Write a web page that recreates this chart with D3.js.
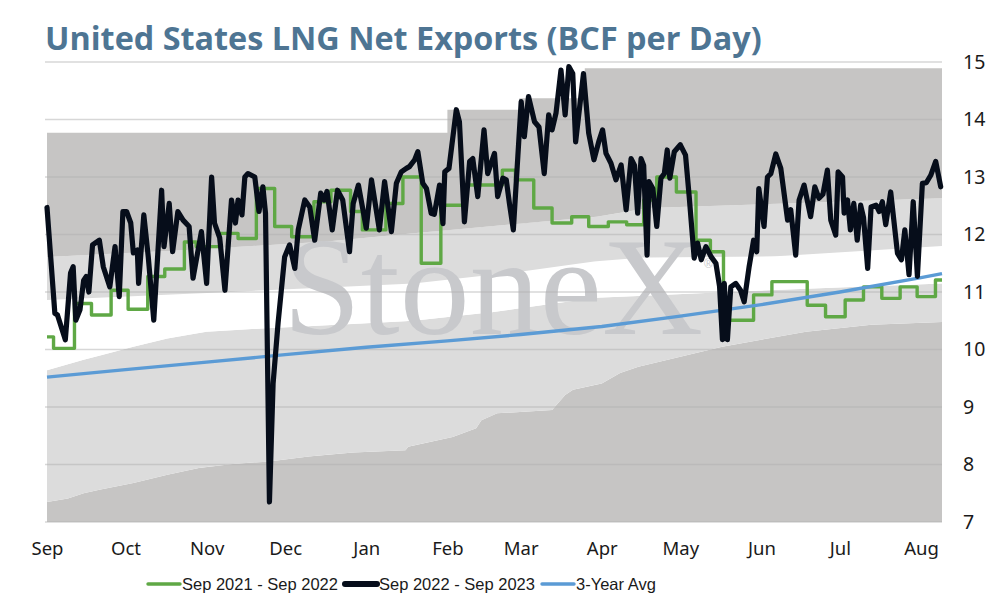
<!DOCTYPE html>
<html><head><meta charset="utf-8">
<script src="https://cdn.jsdelivr.net/npm/d3@7"></script>
<style>body{margin:0;background:#fff;}svg{display:block;}</style>
</head><body>
<svg id="chart" width="994" height="606"></svg>
<script>
// ---------------- DATA ----------------
const titleText = "United States LNG Net Exports (BCF per Day)";
const startDate = new Date(2022, 8, 1);          // day 0 = 1 Sep 2022
const endDay = 342;                               // ~8 Aug 2023
const monthLabels = ["Sep","Oct","Nov","Dec","Jan","Feb","Mar","Apr","May","Jun","Jul","Aug"];
const monthStarts = ["2022-09-01","2022-10-01","2022-11-01","2022-12-01","2023-01-01","2023-02-01","2023-03-01","2023-04-01","2023-05-01","2023-06-01","2023-07-01","2023-08-01"];
const yTicks = [7,8,9,10,11,12,13,14,15];
const seriesNames = ["Sep 2021 - Sep 2022","Sep 2022 - Sep 2023","3-Year Avg"];

// Sep 2022 - Sep 2023 (black) : [day, bcf/d]
const current = [[0,12.47],[3,10.63],[4,10.6],[7,10.17],[9,11.33],[10,11.44],[11,10.51],[12.6,10.69],[14,11.2],[15,11.27],[16,11.0],[17.4,11.82],[20,11.9],[21.5,11.44],[24,11.09],[26,11.79],[27.6,10.92],[29,12.4],[30.4,12.4],[32,12.2],[33,11.68],[34.5,11.73],[35,11.15],[37,12.34],[38.7,11.61],[40.8,10.51],[43.8,12.77],[44.7,11.79],[46.7,12.54],[48,11.7],[50,12.4],[52,12.25],[54.3,12.14],[55.8,11.24],[59,12.05],[61,11.15],[62.9,13.0],[64,12.2],[66,11.94],[68,11.03],[70.5,12.6],[72,12.2],[73,12.6],[74.5,12.34],[75.6,13.0],[76.8,13.06],[79.4,13.0],[81,12.4],[82.5,12.83],[83.5,12.37],[85,7.35],[86.4,9.41],[88.3,10.46],[90.8,11.61],[92.7,11.82],[94.7,11.41],[96,12.08],[98.5,12.6],[100.4,12.48],[102.3,11.9],[104.6,12.72],[106,12.6],[107,12.75],[109,12.08],[111,12.77],[113,12.6],[115.6,11.7],[117,12.54],[119,12.86],[122,12.11],[124,12.95],[127,12.08],[129,12.92],[131.6,12.05],[133.5,12.89],[135.4,13.09],[137.3,13.15],[138.5,13.18],[140.5,13.3],[141.7,13.44],[143.6,12.89],[145,12.8],[146.8,12.37],[148,12.35],[150,12.86],[151.3,12.19],[152,13.09],[153.6,13.15],[156.4,14.17],[157.6,13.96],[159.5,12.22],[161.5,13.27],[162.7,13.32],[164.6,12.66],[167,13.82],[168.4,13.06],[171,13.41],[172.2,12.66],[174.2,12.98],[175.5,12.95],[176.7,12.54],[178.2,12.08],[181.2,14.31],[182.4,13.7],[184,14.4],[186.3,13.96],[188,13.87],[190,13.06],[191.7,14.08],[193,13.82],[194.5,14.11],[196.4,14.86],[198,14.08],[199.4,14.92],[200.9,14.8],[202,13.61],[204,14.4],[205,14.8],[207,13.76],[209,13.3],[211,13.64],[212.3,13.82],[213.6,13.41],[215.5,13.24],[217.4,12.95],[219.4,13.21],[221.3,12.43],[223.2,13.32],[224.5,13.2],[225.7,12.37],[227,13.32],[228,13.2],[229.3,11.64],[230,12.92],[231.5,12.8],[233,12.14],[234.6,12.98],[235.9,13.06],[237,13.47],[238,12.98],[239.7,13.44],[242,13.56],[244,13.38],[245.4,12.66],[247.3,11.59],[248.6,11.85],[250,11.56],[251.8,11.79],[253.8,11.61],[255.6,11.5],[257,11.1],[258.1,10.17],[258.8,11.15],[260,10.17],[261.3,11.09],[263.2,11.15],[265,11.03],[266.4,10.83],[268.3,11.44],[270,11.9],[271.2,11.7],[272,12.8],[274,12.14],[275.3,13.0],[276.6,13.06],[278.5,13.4],[280.4,13.15],[283,12.25],[284.2,12.43],[286.1,11.64],[287.4,12.6],[289.3,12.86],[291.8,12.31],[293.4,12.83],[295,12.63],[296.5,12.7],[298.2,13.12],[299.5,12.25],[301.4,11.99],[302.3,13.09],[304,13.0],[304.6,12.37],[305.9,12.6],[307,12.08],[308.3,12.54],[309.6,11.9],[310.9,12.51],[312,12.3],[313.6,11.41],[314.9,12.48],[316.8,12.51],[318,12.4],[319.2,12.57],[320.5,12.17],[322.4,12.74],[325,11.67],[326.5,11.56],[327.8,12.08],[329.4,11.3],[331,12.57],[332.6,11.27],[334.5,12.89],[336,12.9],[337.7,13.03],[339.6,13.27],[341.5,12.83]];

// Sep 2021 - Sep 2022 (green, weekly steps) : [first day, last day, bcf/d]
const prior = [[0,2.5,10.22],[2.5,10.5,10.02],[10.5,17,10.8],[17,24.5,10.6],[24.5,31,11.03],[31,38.5,10.7],[38.5,45,11.27],[45,52.5,11.4],[52.5,57,11.87],[57,66,11.79],[66,73,12.02],[73,80,11.93],[80,87,12.8],[87,93.5,12.14],[93.5,102,11.96],[102,108.5,12.57],[108.5,116,12.77],[116,120.5,12.4],[120.5,129.5,12.08],[129.5,136,12.54],[136,143,13.0],[143,150.5,11.5],[150.5,159.5,12.51],[159.5,174,12.86],[174,179,13.12],[179,186,12.95],[186,193,12.46],[193,200.5,12.2],[200.5,207,12.31],[207,214.5,12.14],[214.5,221.5,12.22],[221.5,228,12.17],[228,233,12.6],[233,240.5,13.0],[240.5,248,12.74],[248,253.5,11.9],[253.5,258.5,11.7],[258.5,270,10.51],[270,277,10.95],[277,290.5,11.18],[290.5,297.5,10.77],[297.5,305,10.57],[305,312,10.86],[312,319,11.09],[319,326,10.89],[326,332.5,11.09],[332.5,339.5,10.92],[339.5,342,11.21]];

// 3-Year Avg (blue)
const avg3 = [[0,9.52],[30,9.65],[61,9.78],[91,9.91],[122,10.04],[153,10.15],[181,10.26],[212,10.40],[242,10.58],[273,10.78],[303,11.0],[334,11.25],[342,11.32]];

// background range bands (bottom to top boundaries)
const rangeMin = [[0,7.35],[8,7.41],[14,7.5],[20,7.56],[33,7.68],[46,7.82],[58,7.94],[71,8.01],[84,8.05],[100,8.14],[117,8.21],[137,8.25],[138,8.31],[155,8.48],[164,8.63],[166,8.77],[172,8.89],[193,8.95],[198,9.21],[201,9.3],[212,9.41],[219,9.59],[226,9.7],[258,10.05],[290,10.31],[315,10.43],[342,10.48]];
const bandLow = [[0,9.64],[14,9.82],[33,10.05],[46,10.19],[61,10.31],[84,10.37],[107,10.42],[140,10.5],[170,10.65],[210,10.9],[260,11.0],[342,11.15]];
const bandHigh = [[0,10.86],[70,11.0],[107,11.08],[140,11.15],[180,11.35],[209,11.53],[228,11.6],[278,11.62],[342,11.8]];
const rangeUpperLow = [[0,11.61],[50,11.72],[107,11.88],[140,12.02],[210,12.31],[230,12.46],[282,12.54],[342,12.63]];
const rangeMax = [[0,13.77],[153,13.77],[153,14.17],[180.5,14.17],[180.5,14.37],[205.5,14.37],[205.5,14.89],[342,14.89]];

// ---------------- CHART ----------------
const M = {left:47, right:942, top:62, bottom:522};
const svg = d3.select("#chart");
const dayToDate = d => new Date(startDate.getTime() + d*86400000);
const x = d3.scaleTime().domain([startDate, dayToDate(endDay)]).range([M.left, M.right]);
const y = d3.scaleLinear().domain([7,15]).range([M.bottom, M.top]);
const xd = d => x(dayToDate(d));

const C = {dark:"#c6c5c4", light:"#dcdcdc", white:"#ffffff", green:"#5fa845", black:"#060d1a", blue:"#5b9bd5", title:"#4e7593", text:"#1a1a1a", mark:"#c8c9cc"};

const area = d3.area().x(p=>xd(p.d)).y0(p=>y(p.lo)).y1(p=>y(p.hi));
const floor7 = [[0,7],[endDay,7]];
const bands = [
  [floor7, rangeMin, C.dark],
  [rangeMin, bandLow, C.light],
  [bandLow, bandHigh, C.white],
  [bandHigh, rangeUpperLow, C.light],
  [rangeUpperLow, rangeMax, C.dark]
];
const gBands = svg.append("g");
bands.forEach(([lo,hi,col]) => {
  const pts = [];
  const days = Array.from(new Set(lo.map(p=>p[0]).concat(hi.map(p=>p[0])))).sort((a,b)=>a-b);
  const val = (s,d,side) => {
    const idx = s.map((p,i)=>p[0]===d?i:-1).filter(i=>i>=0);
    if (idx.length) return side==='L'? s[idx[0]][1] : s[idx[idx.length-1]][1];
    for (let i=0;i<s.length-1;i++){
      if (d>s[i][0] && d<s[i+1][0]){const t=(d-s[i][0])/(s[i+1][0]-s[i][0]);return s[i][1]+t*(s[i+1][1]-s[i][1]);}
    }
    return s[s.length-1][1];
  };
  days.forEach(d=>{
    pts.push({d, lo: val(lo,d,'L'), hi: val(hi,d,'L')});
    const lo2 = val(lo,d,'R'), hi2 = val(hi,d,'R');
    if (lo2!==pts[pts.length-1].lo || hi2!==pts[pts.length-1].hi) pts.push({d, lo:lo2, hi:hi2});
  });
  gBands.append("path").attr("d", area(pts)).attr("fill", col);
});

// watermark
const wm = svg.append("text").text("StoneX")
  .attr("x", 283).attr("y", 334)
  .attr("font-family","'Liberation Serif','DejaVu Serif',serif")
  .attr("font-size", 130).attr("fill", C.mark);
const wmw = wm.node().getComputedTextLength();
wm.attr("font-size", 130*420/wmw);
svg.append("text").text("®").attr("x", 704).attr("y", 268)
  .attr("font-family","'Liberation Sans',sans-serif").attr("font-size", 12).attr("fill",C.mark);

// gridlines
svg.append("g").selectAll("line").data(yTicks).join("line")
  .attr("x1", 45).attr("x2", M.right)
  .attr("y1", d=>y(d)).attr("y2", d=>y(d))
  .attr("stroke", "rgba(175,175,175,0.5)").attr("stroke-width", 1.6);

// axes
const yAxis = d3.axisRight(y).tickValues(yTicks).tickSize(0).tickPadding(21).tickFormat(d3.format("d"));
const gy = svg.append("g").attr("transform", `translate(${M.right},0)`).call(yAxis);
gy.select(".domain").remove();
gy.selectAll("text").attr("font-family","'Noto Sans',sans-serif").attr("font-size",19.5).attr("fill",C.text);

const parse = d3.timeParse("%Y-%m-%d");
const xAxis = d3.axisBottom(x).tickValues(monthStarts.map(parse)).tickSize(0).tickPadding(20)
  .tickFormat((d,i)=>monthLabels[i]);
const gx = svg.append("g").attr("transform", `translate(0,${M.bottom})`).call(xAxis);
gx.select(".domain").remove();
gx.selectAll("text").attr("font-family","'Noto Sans',sans-serif").attr("font-size",18.5).attr("fill",C.text);

// lines
const line = d3.line().x(p=>xd(p[0])).y(p=>y(p[1]));
const stepPts = [];
prior.forEach(s=>{ stepPts.push([s[0], s[2]]); stepPts.push([s[1], s[2]]); });
svg.append("path").attr("d", line(stepPts)).attr("fill","none").attr("stroke",C.green).attr("stroke-width",3.4).attr("stroke-linejoin","round");
svg.append("path").attr("d", line(avg3)).attr("fill","none").attr("stroke",C.blue).attr("stroke-width",3.4).attr("stroke-linejoin","round");
svg.append("path").attr("d", line(current)).attr("fill","none").attr("stroke",C.black).attr("stroke-width",5.2).attr("stroke-linejoin","round").attr("stroke-linecap","round");

// title
const tt = svg.append("text").text(titleText).attr("x",45).attr("y",50)
  .attr("font-family","'Open Sans',Lato,sans-serif").attr("font-weight",700)
  .attr("font-size",30).attr("fill",C.title);
const tw = tt.node().getComputedTextLength();
tt.attr("font-size", 30*717/tw);

// legend
const legend = [
  {name: seriesNames[0], color: C.green, w: 3.4, x: 148},
  {name: seriesNames[1], color: C.black, w: 6, x: 345},
  {name: seriesNames[2], color: C.blue, w: 3.4, x: 542}
];
const gl = svg.append("g");
legend.forEach(l=>{
  gl.append("line").attr("x1",l.x).attr("x2",l.x+32).attr("y1",584).attr("y2",584)
    .attr("stroke",l.color).attr("stroke-width",l.w).attr("stroke-linecap","round");
  gl.append("text").text(l.name).attr("x",l.x+34).attr("y",590)
    .attr("font-family","'Liberation Sans',Arial,sans-serif").attr("font-size",16.5).attr("fill",C.text);
});
</script>
</body></html>
